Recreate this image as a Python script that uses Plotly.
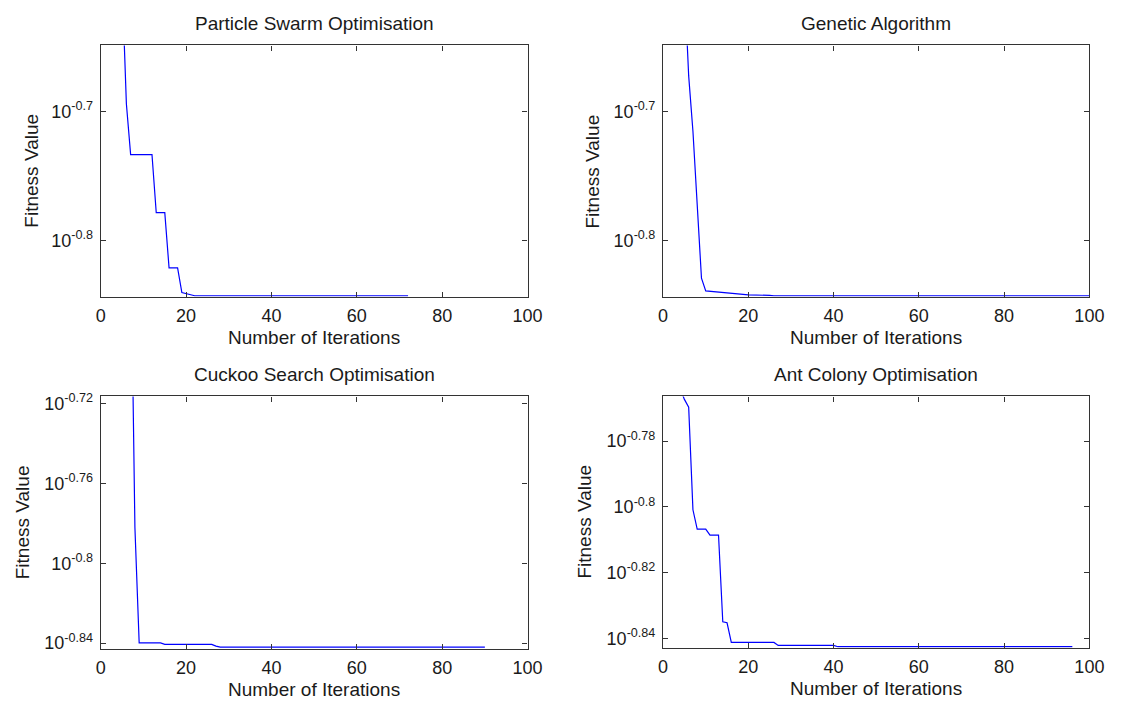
import plotly.graph_objects as go

W, H = 1126, 707

# ---------------- data ----------------
titles = ["Particle Swarm Optimisation", "Genetic Algorithm",
          "Cuckoo Search Optimisation", "Ant Colony Optimisation"]
x_label = "Number of Iterations"
y_label = "Fitness Value"

pso_iter = [1, 2, 3, 4, 5, 6, 7, 12, 13, 15, 16, 18, 19, 20, 21, 22, 72]
pso_fit = [0.35481, 0.31623, 0.29512, 0.26915, 0.25119, 0.20229, 0.18476, 0.18476,
           0.16657, 0.16657, 0.15098, 0.15098, 0.14448, 0.14415, 0.14388, 0.14365, 0.14365]

ga_iter = [1, 2, 3, 4, 5, 6, 7, 8, 9, 10, 13, 17, 20, 25, 26, 100]
ga_fit = [0.35481, 0.31623, 0.29512, 0.26915, 0.25119, 0.21257, 0.19262, 0.16827,
          0.14825, 0.14491, 0.14465, 0.14415, 0.14388, 0.14375, 0.14365, 0.14365]

cs_iter = [1, 2, 3, 4, 5, 6, 7, 8, 9, 14, 15, 26, 27, 28, 90]
cs_fit = [0.31623, 0.29512, 0.27542, 0.26303, 0.25119, 0.24266, 0.23442, 0.16520,
          0.14458, 0.14458, 0.14435, 0.14435, 0.14405, 0.14388, 0.14388]

aco_iter = [1, 2, 3, 4, 5, 6, 7, 8, 10, 11, 13, 14, 15, 16, 26, 27, 40, 41, 96]
aco_fit = [0.18197, 0.17783, 0.17498, 0.17219, 0.17088, 0.16994, 0.15816, 0.15603,
           0.15603, 0.15538, 0.15538, 0.14622, 0.14612, 0.14412, 0.14412, 0.14382,
           0.14382, 0.14369, 0.14369]

x_ticks = [0, 20, 40, 60, 80, 100]
# y tick exponents (labels are 10^exponent)
pso_ytick_exp = ["-0.7", "-0.8"]
ga_ytick_exp = ["-0.7", "-0.8"]
cs_ytick_exp = ["-0.72", "-0.76", "-0.8", "-0.84"]
aco_ytick_exp = ["-0.78", "-0.8", "-0.82", "-0.84"]

# y ranges in log10 units
y_ranges = [[-0.8435, -0.6489], [-0.8435, -0.6489],
            [-0.8428, -0.7165], [-0.8429, -0.7664]]

series = [(pso_iter, pso_fit, pso_ytick_exp), (ga_iter, ga_fit, ga_ytick_exp),
          (cs_iter, cs_fit, cs_ytick_exp), (aco_iter, aco_fit, aco_ytick_exp)]

# ---------------- layout (pixel boxes) ----------------
boxes = [(97.5, 532, 41, 296), (670, 1104, 41, 296),
         (97.5, 532, 397, 653), (670, 1104, 397, 652)]
ylab_x = [27, 598, 18, 590]

FONT = "Liberation Sans, Arial, Helvetica, sans-serif"
TXT = "#1a1a1a"
AXC = "#333333"

fig = go.Figure()
layout = dict(width=W, height=H, margin=dict(l=0, r=0, t=0, b=0),
              paper_bgcolor="white", plot_bgcolor="white", showlegend=False,
              font=dict(family=FONT, size=18, color=TXT))
annotations = []

for i, ((xs, ys, texp), (x0, x1, yt, yb)) in enumerate(zip(series, boxes)):
    n = "" if i == 0 else str(i + 1)
    fig.add_trace(go.Scatter(x=xs, y=ys, mode="lines",
                             line=dict(color="#0000ff", width=1.2),
                             xaxis="x" + n, yaxis="y" + n, hoverinfo="skip"))
    common = dict(showline=True, linecolor=AXC, linewidth=1.3, mirror="ticks",
                  ticks="inside", ticklen=5, tickcolor=AXC, tickwidth=1,
                  showgrid=False, zeroline=False,
                  tickfont=dict(family=FONT, size=18, color=TXT))
    layout["xaxis" + n] = dict(domain=[x0 / W, x1 / W], anchor="y" + n,
                               range=[0, 100], tickmode="array", tickvals=x_ticks,
                               ticktext=[str(t) for t in x_ticks],
                               ticklabelstandoff=2, **common)
    layout["yaxis" + n] = dict(domain=[(H - yb) / H, (H - yt) / H], anchor="x" + n,
                               type="log", range=y_ranges[i], tickmode="array",
                               tickvals=[10 ** float(e) for e in texp],
                               ticktext=["10<sup>" + e + "</sup>" for e in texp],
                               ticklabelstandoff=3, **common)
    cx = (x0 + x1) / 2 / W
    annotations.append(dict(text=titles[i], x=cx, y=(H - (yt - 22)) / H,
                            xref="paper", yref="paper", showarrow=False,
                            xanchor="center", yanchor="middle",
                            font=dict(family=FONT, size=19, color=TXT)))
    annotations.append(dict(text=x_label, x=cx, y=(H - (yb + 41)) / H,
                            xref="paper", yref="paper", showarrow=False,
                            xanchor="center", yanchor="middle",
                            font=dict(family=FONT, size=19, color=TXT)))
    annotations.append(dict(text=y_label, x=ylab_x[i] / W, y=(H - (yt + yb) / 2) / H,
                            xref="paper", yref="paper", showarrow=False,
                            textangle=-90, xanchor="center", yanchor="middle",
                            font=dict(family=FONT, size=19, color=TXT)))

layout["annotations"] = annotations
fig.update_layout(**layout)
fig.write_html("out.html")
